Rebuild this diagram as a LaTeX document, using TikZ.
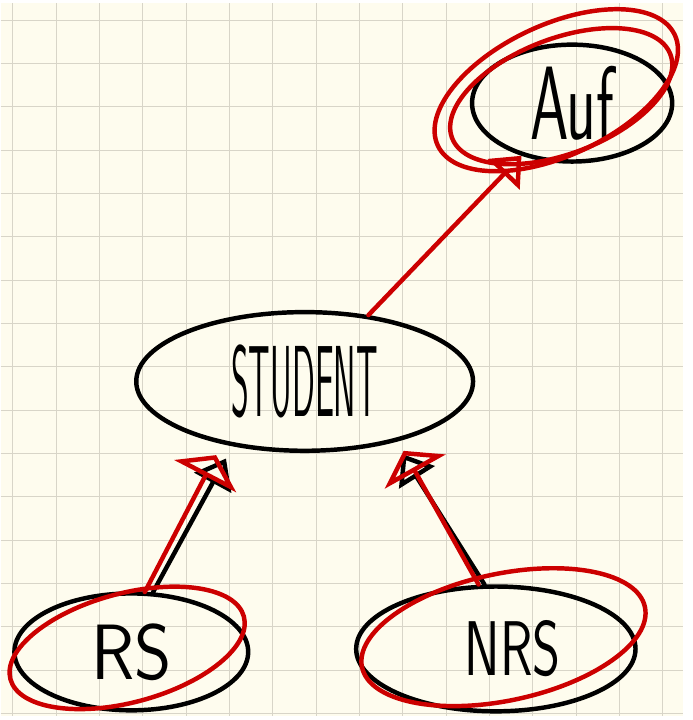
\documentclass[tikz,border=0pt]{standalone}
\usepackage{graphicx}
\usetikzlibrary{
  shapes.geometric, % ellipse
  arrows.meta,      % Triangle[open]
}
\definecolor{paper}{RGB}{254,252,238}
\definecolor{gridgray}{RGB}{216,213,200}
\definecolor{inkred}{RGB}{204,0,0}
\newcommand{\tall}[2][1.6]{\scalebox{1}[#1]{#2}}
\tikzset{
  font=\sffamily,
  pen/.style={
    line width=4.5pt,
    line cap=round,
    line join=round
  },
  red ink/.style={
    pen,
    draw=inkred
  },
  grid line/.style={
    draw=gridgray,
    line width=1.1pt
  },
  hand/.style={
    font=\sffamily\fontsize{#1}{#1}\selectfont
  },
  entity/.style={
    ellipse,
    draw,
    pen,
    inner sep=0pt
  },
  isa/.style={
    pen,
    -{Triangle[open, length=28pt, width=42pt]},
    shorten >=14pt
  },
  red isa/.style={
    red ink,
    -{Triangle[open, length=24pt, width=70pt]},
    shorten >=10pt
  }
}

\begin{document}
\begin{tikzpicture}[x=1pt,y=-1pt]
% squared paper
\fill[paper] (0,0) rectangle (689,720);
\foreach \gx in {0,...,15}
  \draw[grid line] ({12.3+43.75*\gx},0) -- ({12.3+43.75*\gx},720);
\foreach \gy in {0,...,16}
  \draw[grid line] (0,{17.3+43.75*\gy}) -- (689,{17.3+43.75*\gy});

% entities
\node[entity, minimum width=340, minimum height=140, hand=34] (student) at (307,382) {\tall[3]{STUDENT}};
\node[entity, minimum width=202, minimum height=118, hand=62] (auf) at (577,101) {\tall[1.7]{Auf}};
\node[entity, minimum width=236, minimum height=118, hand=72] (rs) at (132,655) {\tall[1.1]{RS}\hspace{20pt}};
\node[entity, minimum width=282, minimum height=126, hand=54] (nrs) at (500,652) {\hspace{34pt}\tall[1.45]{NRS}};

% generalisation
\draw[isa] (rs.70) -- (student.222);
\draw[isa] (nrs.100) -- (student.326);

% red corrections
\draw[red ink, rotate around={25:(561,88)}] (561,88) ellipse [x radius=132, y radius=66];
\draw[red ink, rotate around={21:(566,94)}] (566,94) ellipse [x radius=118, y radius=58];
\draw[red ink, rotate around={15:(rs.center)}] ([shift={(-3,-5)}]rs.center) ellipse [x radius=122, y radius=55];
\draw[red ink, rotate around={12:(nrs.center)}] ([shift={(10,-10)}]nrs.center) ellipse [x radius=146, y radius=64];
\draw[red ink, -{Triangle[open, length=26pt, width=44pt]}] (student) -- (auf);
\draw[red isa] ([xshift=-6pt]rs.72) -- ([xshift=-12pt]student.222);
\draw[red isa] ([xshift=-6pt]nrs.100) -- ([xshift=4pt]student.326);
\end{tikzpicture}
\end{document}
